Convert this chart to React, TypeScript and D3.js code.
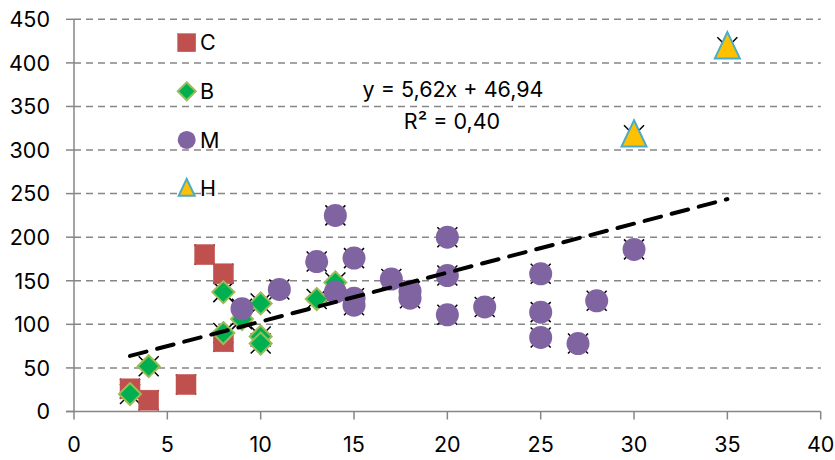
import React from 'react';
import * as d3 from 'd3';

// series values
const cX = [3, 4, 6, 7, 8, 8];
const cY = [26, 13, 31, 180, 158, 80];

const bX = [3, 4, 8, 8, 9, 10, 10, 10, 13, 14];
const bY = [20, 52, 137, 90, 106, 124, 86, 78, 129, 148];

const mX = [9, 11, 13, 14, 14, 15, 15, 15, 17, 18, 18, 20, 20, 20, 22, 25, 25, 25, 27, 28, 30];
const mY = [118, 140, 172, 225, 137, 176, 130, 122, 152, 138, 130, 200, 156, 111, 120, 158, 114, 85, 78, 127, 186];

const hX = [30, 35];
const hY = [317, 418];

const xTicks = [0, 5, 10, 15, 20, 25, 30, 35, 40];
const yTicks = [0, 50, 100, 150, 200, 250, 300, 350, 400, 450];

const trendSlope = 5.62;
const trendIntercept = 46.94;
const trendRange = [3, 35];
const equationLabel = 'y = 5,62x + 46,94';
const r2Label = 'R² = 0,40';

const legendNames = ['C', 'B', 'M', 'H'];

const FONT = 'Inter, Lato, sans-serif';
const FS = 21.5;
const GRID = '#868686';

const W = 835;
const H = 460;

const x = d3.scaleLinear().domain([0, 40]).range([74, 820.7]);
const y = d3.scaleLinear().domain([0, 450]).range([411.5, 19.3]);

const zip = (xs: number[], ys: number[]) => xs.map((v, i) => [v, ys[i]] as [number, number]);

const cPts = zip(cX, cY);
const bPts = zip(bX, bY);
const mPts = zip(mX, mY);
const hPts = zip(hX, hY);
const allPts = [...cPts, ...bPts, ...mPts, ...hPts];

const square = (cx: number, cy: number, s: number, key?: React.Key) => (
  <rect key={key} x={cx - s / 2} y={cy - s / 2} width={s} height={s} fill="#C0504D" stroke="#C0504D" strokeWidth={0.5} />
);
const diamond = (cx: number, cy: number, r: number, key?: React.Key) => (
  <path key={key} d={`M${cx},${cy - r}L${cx + r},${cy}L${cx},${cy + r}L${cx - r},${cy}Z`} fill="#00B050" stroke="#9BBB59" strokeWidth={2} />
);
const circle = (cx: number, cy: number, r: number, key?: React.Key) => (
  <circle key={key} cx={cx} cy={cy} r={r} fill="#8064A2" />
);
const triangle = (cx: number, cy: number, s: number, key?: React.Key) => (
  <path key={key} d={`M${cx},${cy - s * 0.6}L${cx + s / 2},${cy + s * 0.45}L${cx - s / 2},${cy + s * 0.45}Z`} fill="#FFC000" stroke="#4BACC6" strokeWidth={2} />
);

export default function App() {
  const trendLine = d3.line<number>()
    .x(d => x(d))
    .y(d => y(trendSlope * d + trendIntercept));

  return (
    <svg width={W} height={H} style={{ position: 'absolute', left: 0, top: 0, background: '#fff' }} fontFamily={FONT}>
      {/* horizontal gridlines */}
      {yTicks.slice(1).map(t => (
        <line key={t} x1={x(0)} x2={x(40)} y1={y(t)} y2={y(t)} stroke={GRID} strokeWidth={1.5} strokeDasharray="7,5" />
      ))}
      {/* axes */}
      <line x1={x(0)} x2={x(0)} y1={y(0)} y2={y(450)} stroke={GRID} strokeWidth={1.5} />
      <line x1={x(0) - 8} x2={x(40)} y1={y(0)} y2={y(0)} stroke={GRID} strokeWidth={1.5} />
      {yTicks.map(t => (
        <g key={t}>
          <line x1={x(0) - 8} x2={x(0)} y1={y(t)} y2={y(t)} stroke={GRID} strokeWidth={1.5} />
          <text x={50} y={y(t)} dy="0.36em" textAnchor="end" fontSize={FS} fill="#000">{t}</text>
        </g>
      ))}
      {xTicks.map(t => (
        <g key={t}>
          <line x1={x(t)} x2={x(t)} y1={y(0)} y2={y(0) + 8} stroke={GRID} strokeWidth={1.5} />
          <text x={x(t)} y={452} textAnchor="middle" fontSize={FS} fill="#000">{t}</text>
        </g>
      ))}

      {/* x markers of the combined series */}
      {allPts.map(([px, py], i) => (
        <path key={i} d={`M${x(px) - 10},${y(py) - 10}L${x(px) + 10},${y(py) + 10}M${x(px) + 10},${y(py) - 10}L${x(px) - 10},${y(py) + 10}`}
          stroke="#000" strokeWidth={1.5} />
      ))}

      {cPts.map(([px, py], i) => square(x(px), y(py), 20, i))}
      {bPts.map(([px, py], i) => diamond(x(px), y(py), 11, i))}
      {mPts.map(([px, py], i) => circle(x(px), y(py), 11.5, i))}
      {hPts.map(([px, py], i) => triangle(x(px), y(py), 25, i))}

      {/* trendline */}
      <path d={trendLine(trendRange) ?? ''} fill="none" stroke="#000" strokeWidth={4} strokeDasharray="17,11" strokeLinecap="round" />

      <text x={453} y={97} textAnchor="middle" fontSize={FS} fill="#000">{equationLabel}</text>
      <text x={452} y={129} textAnchor="middle" fontSize={FS} fill="#000">{r2Label}</text>

      {/* legend */}
      {legendNames.map((name, i) => {
        const ly = 42.7 + i * 48.6;
        return (
          <g key={name}>
            {i === 0 && square(186.7, ly, 18)}
            {i === 1 && diamond(186.7, ly, 9)}
            {i === 2 && circle(186.7, ly, 9)}
            {i === 3 && triangle(186.7, ly, 16)}
            <text x={200} y={ly} dy="0.36em" fontSize={FS} fill="#000">{name}</text>
          </g>
        );
      })}
    </svg>
  );
}
